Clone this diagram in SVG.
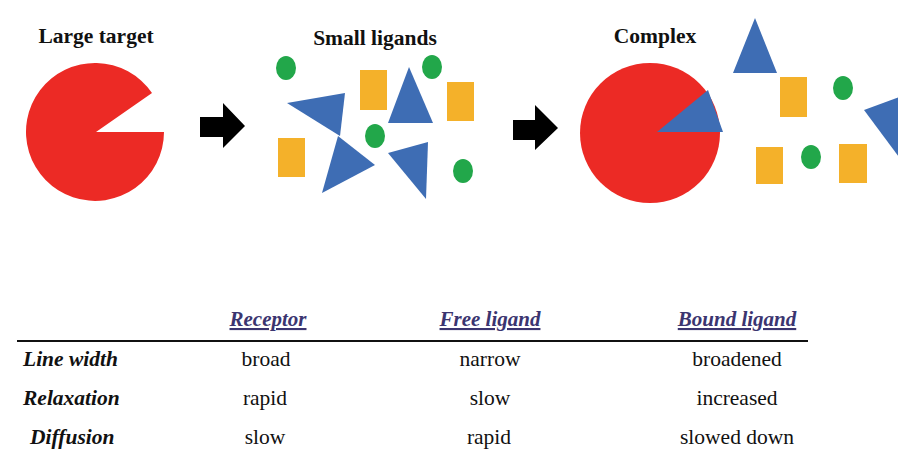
<svg xmlns="http://www.w3.org/2000/svg" width="898" height="455" viewBox="0 0 898 455">
<style>
.title{font-family:"Liberation Serif",serif;font-weight:bold;font-size:21.5px;fill:#111;text-anchor:middle}
.hdr{font-family:"Liberation Serif",serif;font-weight:bold;font-style:italic;font-size:21px;fill:#3b3570;text-anchor:middle;text-decoration:underline}
.row{font-family:"Liberation Serif",serif;font-weight:bold;font-style:italic;font-size:21.5px;fill:#111}
.val{font-family:"Liberation Serif",serif;font-size:21.5px;fill:#111;text-anchor:middle}
.red{fill:#ec2a25}
.blue{fill:#3e6db4}
.orange{fill:#f4b12a}
.green{fill:#22a74a}
.arrow{fill:#000}
</style>
<rect width="898" height="455" fill="#fff"/>

<g id="large-target">
<text class="title" x="96" y="43">Large target</text>
<path class="red" d="M96,132 L164,132 A69,69 0 1 1 152,93 Z"/>
</g>

<g id="small-ligands">
<text class="title" x="375" y="45">Small ligands</text>
<ellipse class="green" cx="286" cy="68" rx="10" ry="12"/>
<ellipse class="green" cx="432" cy="67" rx="10" ry="12"/>
<ellipse class="green" cx="375" cy="136" rx="10" ry="12"/>
<ellipse class="green" cx="463" cy="171" rx="10" ry="12"/>
<rect class="orange" x="360" y="70" width="27" height="40"/>
<rect class="orange" x="447" y="82" width="27" height="39"/>
<rect class="orange" x="278" y="138" width="27" height="39"/>
<polygon class="blue" points="287,103 345,93 340,136"/>
<polygon class="blue" points="409,67 388,123 433,123"/>
<polygon class="blue" points="338,136 375,165 322,193"/>
<polygon class="blue" points="388,153 428,142 426,199"/>
</g>

<g id="complex">
<text class="title" x="655" y="43">Complex</text>
<circle class="red" cx="650" cy="133" r="70"/>
<polygon class="blue" points="657,132 708,90 723,132"/>
<polygon class="blue" points="755,18 733,73 777,73"/>
<rect class="orange" x="780" y="77" width="27" height="40"/>
<ellipse class="green" cx="843" cy="88" rx="10" ry="12"/>
<polygon class="blue" points="864,110 910,93 910,172"/>
<rect class="orange" x="756" y="147" width="27" height="37"/>
<ellipse class="green" cx="811" cy="157" rx="10" ry="12"/>
<rect class="orange" x="839" y="144" width="28" height="39"/>
</g>

<g id="connectors">
<polygon class="arrow" points="200,117 223,117 223,103 245,126 223,148 223,137 200,137"/>
<polygon class="arrow" points="513,120 535,120 535,105 558,128 535,150 535,140 513,140"/>
</g>

<g id="table">
<text class="hdr" x="268" y="326">Receptor</text>
<text class="hdr" x="490" y="326">Free ligand</text>
<text class="hdr" x="737" y="326">Bound ligand</text>
<line x1="17" y1="341" x2="808" y2="341" stroke="#111" stroke-width="2"/>
<text class="row" x="23" y="366">Line width</text>
<text class="row" x="23" y="405">Relaxation</text>
<text class="row" x="30" y="444">Diffusion</text>
<text class="val" x="266" y="366">broad</text>
<text class="val" x="265" y="405">rapid</text>
<text class="val" x="265" y="444">slow</text>
<text class="val" x="490" y="366">narrow</text>
<text class="val" x="490" y="405">slow</text>
<text class="val" x="489" y="444">rapid</text>
<text class="val" x="737" y="366">broadened</text>
<text class="val" x="737" y="405">increased</text>
<text class="val" x="737" y="444">slowed down</text>
</g>
</svg>
